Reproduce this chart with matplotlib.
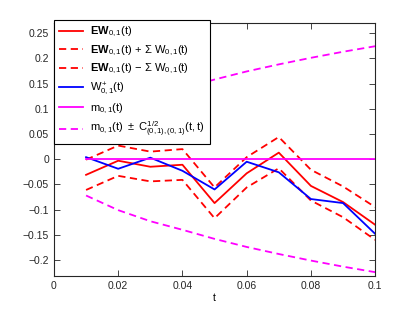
import matplotlib
matplotlib.use('Agg')
import matplotlib.pyplot as plt
import numpy as np

plt.rcParams['font.family'] = 'Liberation Sans'
plt.rcParams['mathtext.fontset'] = 'custom'
plt.rcParams['mathtext.rm'] = 'Liberation Sans'
plt.rcParams['mathtext.it'] = 'Liberation Sans'
plt.rcParams['mathtext.bf'] = 'Liberation Sans:bold'

t = [0.01, 0.02, 0.03, 0.04, 0.05, 0.06, 0.07, 0.08, 0.09, 0.1]
EW = [-0.031, -0.003, -0.015, -0.011, -0.087, -0.028, 0.013, -0.053, -0.085, -0.130]
EW_up = [-0.001, 0.027, 0.015, 0.020, -0.056, 0.004, 0.044, -0.021, -0.054, -0.095]
EW_lo = [-0.061, -0.033, -0.044, -0.041, -0.117, -0.056, -0.018, -0.082, -0.115, -0.160]
W_plus = [0.004, -0.019, 0.003, -0.023, -0.060, -0.005, -0.026, -0.079, -0.087, -0.148]
m = [0, 0, 0, 0, 0, 0, 0, 0, 0, 0]
C_half = [0.072, 0.101, 0.123, 0.140, 0.158, 0.174, 0.188, 0.201, 0.213, 0.224]

m_up = np.array(m) + np.array(C_half)
m_lo = np.array(m) - np.array(C_half)

fig = plt.figure(figsize=(4.15, 3.11), dpi=100)
ax = fig.add_axes([0.130, 0.1135, 0.774, 0.8125])

lw = 1.3
dash = (0, (4, 2.5))
l1, = ax.plot(t, EW, color='red', lw=lw)
l2, = ax.plot(t, EW_up, color='red', lw=lw, linestyle=dash)
l3, = ax.plot(t, EW_lo, color='red', lw=lw, linestyle=dash)
l4, = ax.plot(t, W_plus, color='blue', lw=lw)
l5, = ax.plot([0.01, 0.1], [m[0], m[-1]], color='magenta', lw=lw)
l6, = ax.plot(t, m_up, color='magenta', lw=lw, linestyle=dash)
ax.plot(t, m_lo, color='magenta', lw=lw, linestyle=dash)

ax.set_xlim(0, 0.1)
ax.set_ylim(-0.231, 0.27)
ax.set_xticks([0, 0.02, 0.04, 0.06, 0.08, 0.1])
ax.set_xticklabels(['0', '0.02', '0.04', '0.06', '0.08', '0.1'])
ax.set_yticks([-0.2, -0.15, -0.1, -0.05, 0, 0.05, 0.1, 0.15, 0.2, 0.25])
ax.set_yticklabels(['\u22120.2', '\u22120.15', '\u22120.1', '\u22120.05', '0',
                    '0.05', '0.1', '0.15', '0.2', '0.25'])
ax.tick_params(direction='in', top=True, right=True, length=4, labelsize=7.5,
               width=0.6, colors='#262626')
for s in ax.spines.values():
    s.set_linewidth(0.8)
    s.set_color('#262626')
ax.set_xlabel('t', fontsize=7.5, labelpad=2)

labels = [r'$\mathbf{EW}_{0,1}(t)$',
          r'$\mathbf{EW}_{0,1}(t)\,+\,\Sigma\ W_{0,1}(t)$',
          r'$\mathbf{EW}_{0,1}(t)\,-\,\Sigma\ W_{0,1}(t)$',
          r'$W^{+}_{0,1}(t)$',
          r'$m_{0,1}(t)$',
          r'$m_{0,1}(t)\ \pm\ C^{1/2}_{(0,1),(0,1)}(t,t)$']
leg = fig.legend([l1, l2, l3, l4, l5, l6], labels, loc='upper left',
                 bbox_to_anchor=(54 / 415, 1 - 20 / 311), fontsize=8,
                 fancybox=False, edgecolor='black', framealpha=1,
                 handlelength=2.2, handletextpad=0.6, labelspacing=0.38,
                 borderaxespad=0, borderpad=0.45)
leg.get_frame().set_linewidth(0.8)

fig.savefig('out.png', dpi=100)
